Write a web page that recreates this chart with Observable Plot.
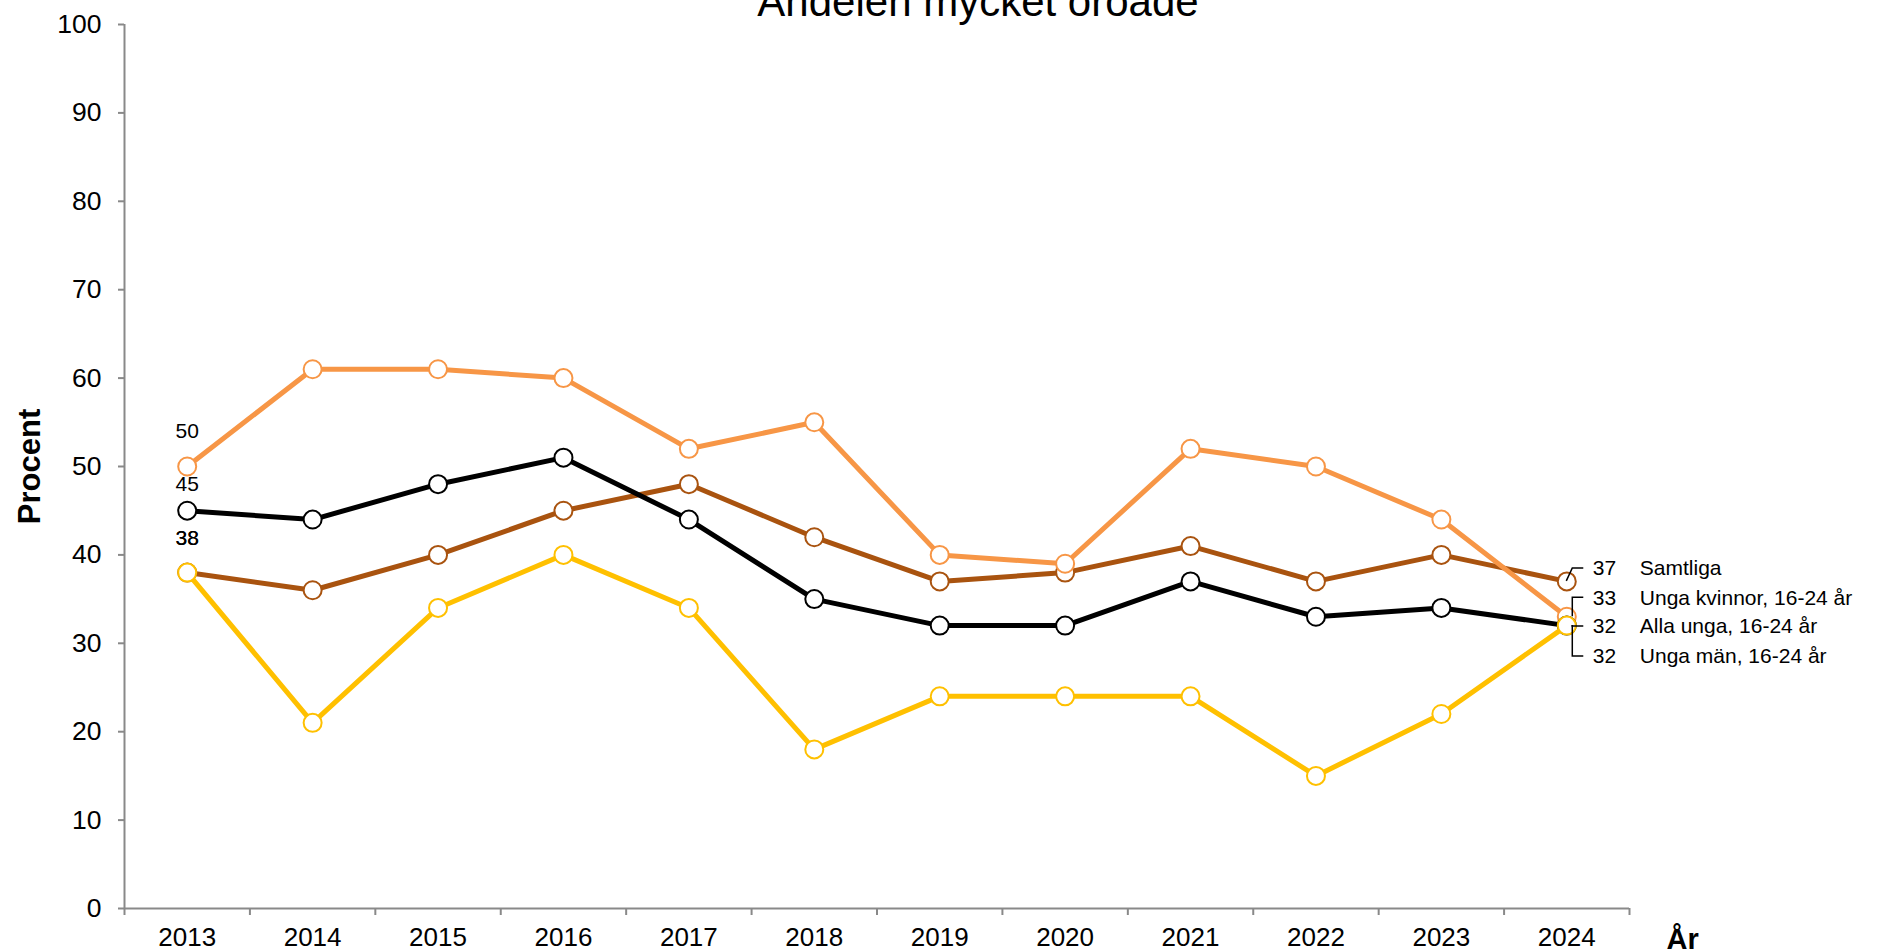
<!DOCTYPE html>
<html><head><meta charset="utf-8">
<script src="https://cdn.jsdelivr.net/npm/d3@7"></script>
<script src="https://cdn.jsdelivr.net/npm/@observablehq/plot@0.6"></script>
<style>
html,body{margin:0;padding:0;background:#fff;overflow:hidden}
#chart svg{display:block}
</style></head><body><div id="chart"></div>
<script>
// ---- data ----
const years = [2013, 2014, 2015, 2016, 2017, 2018, 2019, 2020, 2021, 2022, 2023, 2024];
const seriesNames = ["Samtliga", "Unga kvinnor, 16-24 år", "Alla unga, 16-24 år", "Unga män, 16-24 år"];
const samtliga    = [38, 36, 40, 45, 48, 42, 37, 38, 41, 37, 40, 37];
const ungaKvinnor = [50, 61, 61, 60, 52, 55, 40, 39, 52, 50, 44, 33];
const allaUnga    = [45, 44, 48, 51, 44, 35, 32, 32, 37, 33, 34, 32];
const ungaMan     = [38, 21, 34, 40, 34, 18, 24, 24, 24, 15, 22, 32];
const yTicks = [0, 10, 20, 30, 40, 50, 60, 70, 80, 90, 100];
const xBoundaries = [2012.5, 2013.5, 2014.5, 2015.5, 2016.5, 2017.5, 2018.5, 2019.5, 2020.5, 2021.5, 2022.5, 2023.5, 2024.5];
const titleText = "Andelen mycket oroade";
const yLabel = "Procent";
const xLabel = "År";

// ---- styling / layout ----
const seriesColors = ["#A9530F", "#F79646", "#000000", "#FFC000"];
const startLabelDy = [-34, -35, -26, -34];
const endLabelDy = [-13, -19, 1, 31];
const gray = "#898989";
const font = "'Liberation Sans', Arial, Helvetica, sans-serif";

const seriesValues = [samtliga, ungaKvinnor, allaUnga, ungaMan];
const rows = seriesValues.map((vals, s) => vals.map((v, i) => ({year: years[i], value: v, series: seriesNames[s]})));

const seriesMarks = rows.flatMap((data, s) => [
  Plot.line(data, {x: "year", y: "value", stroke: seriesColors[s], strokeWidth: 5}),
  Plot.dot(data, {x: "year", y: "value", r: 9, fill: "white", stroke: seriesColors[s], strokeWidth: 2})
]);

const startLabels = rows.map((data, s) =>
  Plot.text([data[0]], {x: "year", y: "value", text: d => String(d.value), dy: startLabelDy[s], fontSize: 21, fill: "black"})
);

const endNumbers = rows.map((data, s) =>
  Plot.text([data[data.length - 1]], {x: "year", y: "value", text: d => String(d.value), dx: 26, dy: endLabelDy[s], textAnchor: "start", fontSize: 21, fill: "black"})
);
const endNames = rows.map((data, s) =>
  Plot.text([data[data.length - 1]], {x: "year", y: "value", text: d => d.series, dx: 73, dy: endLabelDy[s], textAnchor: "start", fontSize: 21, fill: "black"})
);

function leaders(index, scales) {
  const g = d3.create("svg:g");
  rows.forEach((data, s) => {
    const last = data[data.length - 1];
    const px = scales.x(last.year), py = scales.y(last.value);
    const ly = py + endLabelDy[s];
    const sx = s === 0 ? 0 : 6;
    g.append("path")
      .attr("d", `M${px + sx},${py}L${px + 6},${ly}L${px + 17},${ly}`)
      .attr("fill", "none").attr("stroke", "black").attr("stroke-width", 1.5);
  });
  return g.node();
}

const chart = Plot.plot({
  width: 1888,
  height: 952,
  marginLeft: 124,
  marginRight: 259,
  marginTop: 24,
  marginBottom: 44,
  style: {fontFamily: font, fontSize: "24px", color: "black", background: "white"},
  x: {type: "linear", domain: [2012.5, 2024.5]},
  y: {type: "linear", domain: [0, 100]},
  marks: [
    Plot.ruleX([2012.5], {stroke: gray, strokeWidth: 2}),
    Plot.ruleY([0], {stroke: gray, strokeWidth: 2}),
    Plot.axisY(yTicks, {tickSize: 6, fill: "none", stroke: gray, strokeWidth: 2, label: null}),
    Plot.axisY(yTicks, {tickSize: 0, tickPadding: 23, fontSize: 26.5, fill: "black", label: null, tickFormat: d => String(d)}),
    Plot.axisX(xBoundaries, {tickSize: 7, fill: "none", stroke: gray, strokeWidth: 2, label: null}),
    Plot.axisX(years, {tickSize: 0, tickPadding: 19, fontSize: 26, fill: "black", label: null, tickFormat: d => String(d)}),
    ...seriesMarks,
    ...startLabels,
    leaders,
    ...endNumbers,
    ...endNames,
    Plot.text([yLabel], {text: d => d, frameAnchor: "left", dx: -94, rotate: -90, textAnchor: "middle", lineAnchor: "middle", fontSize: 31, fontWeight: "bold", fill: "black"}),
    Plot.text([xLabel], {text: d => d, frameAnchor: "bottom-right", dx: 37, dy: 40, textAnchor: "start", lineAnchor: "bottom", fontSize: 29, fontWeight: "bold", fill: "black"}),
    Plot.text([titleText], {text: d => d, frameAnchor: "top", dx: 101, dy: -9, lineAnchor: "bottom", fontSize: 42, fill: "black"})
  ]
});
document.getElementById("chart").appendChild(chart);
</script>
</body></html>
